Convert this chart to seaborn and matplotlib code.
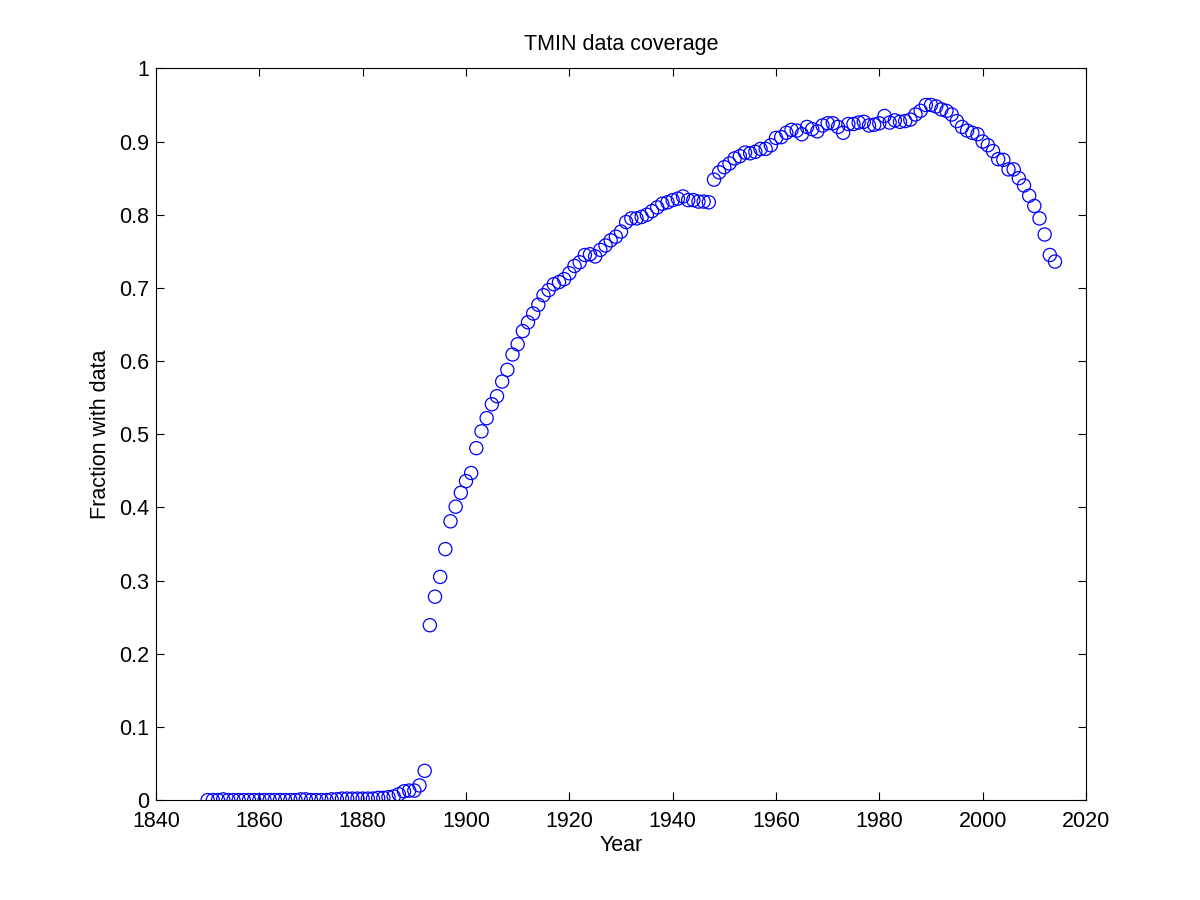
import numpy as np
import pandas as pd
import matplotlib
matplotlib.use("Agg")
import matplotlib.pyplot as plt
import seaborn as sns

years = list(range(1850, 2015))

# 1850-1892
early = [0.000, 0.000, 0.000, 0.001, 0.000, 0.000, 0.000, 0.000, 0.000, 0.000,
         0.000, 0.000, 0.000, 0.000, 0.000, 0.000, 0.000, 0.000, 0.001, 0.001,
         0.000, 0.000, 0.000, 0.000, 0.001, 0.001, 0.002, 0.002, 0.002, 0.002,
         0.002, 0.002, 0.002, 0.003, 0.003, 0.004, 0.005, 0.008, 0.012, 0.013,
         0.013, 0.020, 0.040]
# 1893-1947
growth = [0.239, 0.278, 0.305, 0.343, 0.381, 0.401, 0.420, 0.436, 0.447, 0.481,
          0.504, 0.522, 0.541, 0.552, 0.572, 0.588, 0.609, 0.623, 0.641, 0.653,
          0.665, 0.677, 0.690, 0.697, 0.705, 0.708, 0.712, 0.720, 0.730, 0.735,
          0.745, 0.746, 0.743, 0.752, 0.758, 0.765, 0.770, 0.777, 0.790, 0.795,
          0.795, 0.797, 0.800, 0.805, 0.810, 0.815, 0.817, 0.820, 0.822, 0.825,
          0.820, 0.820, 0.818, 0.818, 0.817]
# 1948-2014
late = [0.848, 0.858, 0.865, 0.870, 0.877, 0.880, 0.885, 0.884, 0.886, 0.890,
        0.890, 0.895, 0.905, 0.906, 0.912, 0.916, 0.915, 0.910, 0.920, 0.917,
        0.914, 0.922, 0.925, 0.925, 0.920, 0.912, 0.924, 0.924, 0.926, 0.927,
        0.922, 0.923, 0.925, 0.935, 0.926, 0.929, 0.927, 0.928, 0.930, 0.937,
        0.942, 0.950, 0.950, 0.948, 0.944, 0.942, 0.937, 0.928, 0.920, 0.915,
        0.912, 0.910, 0.900, 0.895, 0.887, 0.876, 0.875, 0.862, 0.862, 0.850,
        0.840, 0.826, 0.812, 0.795, 0.773, 0.745, 0.736]

fraction = early + growth + late
df = pd.DataFrame({"Year": years, "Fraction": fraction})

sns.set_style("white")
plt.rcParams["font.family"] = ["Liberation Sans", "DejaVu Sans"]

fig = plt.figure(figsize=(12, 9), dpi=100)
ax = fig.add_axes([0.13, 0.111, 0.775, 0.813])

sns.scatterplot(data=df, x="Year", y="Fraction", ax=ax, marker="o", s=90,
                color="blue", linewidth=0.9)
ax.collections[0].set_facecolor("none")
ax.collections[0].set_edgecolor("blue")

ax.set_xlim(1840, 2020)
ax.set_ylim(0, 1)
ax.set_xticks(np.arange(1840, 2021, 20))
ax.set_yticks(np.arange(0, 1.01, 0.1))
ax.set_yticklabels(["0", "0.1", "0.2", "0.3", "0.4", "0.5", "0.6", "0.7", "0.8", "0.9", "1"])
ax.tick_params(direction="in", length=6, width=0.8, bottom=True, left=True,
               top=True, right=True, labelsize=15.5, colors="black", pad=5)
ax.tick_params(axis="x", pad=8)
for sp in ax.spines.values():
    sp.set_color("black")
    sp.set_linewidth(0.8)

ax.set_xlabel("Year", fontsize=15.5, color="black", labelpad=2)
ax.set_ylabel("Fraction with data", fontsize=15.5, color="black", labelpad=6)
ax.set_title("TMIN data coverage", fontsize=15.5, color="black", pad=13)

fig.savefig("out.png", dpi=100, facecolor="white")
